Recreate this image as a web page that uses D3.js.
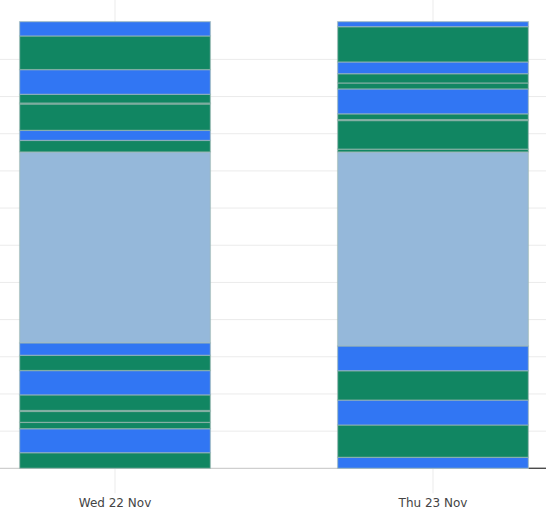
<!DOCTYPE html>
<html>
<head>
<meta charset="utf-8">
<script src="https://cdn.jsdelivr.net/npm/d3@7"></script>
<style>
  body { margin: 0; background: #fff; }
  svg { display: block; }
</style>
</head>
<body>
<svg id="chart" width="546" height="530"></svg>
<script>
// days on the x axis
const days = ["Wed 22 Nov", "Thu 23 Nov"];

// segment kinds stacked from the bottom up, per day
const wedKinds = ["g","b","g","g","g","g","b","g","b","l","g","b","g","g","g","b","g","b"];
const wedHours = [0.84,1.29,0.34,0.59,0.05,0.84,1.31,0.82,0.67,10.27,0.62,0.54,1.42,0.05,0.47,1.33,1.81,0.77];

const thuKinds = ["b","g","b","g","b","l","g","g","g","g","b","g","g","b","g","b"];
const thuHours = [0.59,1.74,1.34,1.58,1.33,10.44,0.15,1.54,0.05,0.31,1.34,0.32,0.50,0.63,1.90,0.27];

// y gridlines
const yTicks = [2,4,6,8,10,12,14,16,18,20,22];

const colors = { b: "#3176f3", g: "#118662", l: "#95b8da" };

const svg = d3.select("#chart");
const W = 546, H = 530;

let x = d3.scaleBand()
    .domain(days)
    .range([-44, 592])
    .paddingInner(0.4)
    .paddingOuter(0.2);

let y = d3.scaleLinear()
    .domain([0, 24])
    .range([468.3, 22.2]);

// build stacked segments
function stackDay(day, kinds, hours) {
    let ends = d3.cumsum(hours);
    return hours.map((h, i) => ({ day: day, kind: kinds[i], y0: ends[i] - h, y1: ends[i] }));
}
let segs = stackDay(days[0], wedKinds, wedHours).concat(stackDay(days[1], thuKinds, thuHours));

// horizontal grid
svg.append("g").selectAll("line").data(yTicks).enter().append("line")
    .attr("x1", 0).attr("x2", W)
    .attr("y1", d => y(d)).attr("y2", d => y(d))
    .attr("stroke", "#ebebeb").attr("stroke-width", 1);

// vertical grid + ticks at day centers
svg.append("g").selectAll("line").data(days).enter().append("line")
    .attr("x1", d => x(d) + x.bandwidth() / 2)
    .attr("x2", d => x(d) + x.bandwidth() / 2)
    .attr("y1", 0).attr("y2", y(0) + 25)
    .attr("stroke", "#ebebeb").attr("stroke-width", 1);

// baseline
svg.append("line")
    .attr("x1", 0).attr("x2", W)
    .attr("y1", y(0)).attr("y2", y(0))
    .attr("stroke", "#cfcfcf").attr("stroke-width", 1.2);
svg.append("line")
    .attr("x1", x(days[1]) + x.bandwidth()).attr("x2", W)
    .attr("y1", y(0)).attr("y2", y(0))
    .attr("stroke", "#444").attr("stroke-width", 1.3);

// bars
svg.append("g").selectAll("rect").data(segs).enter().append("rect")
    .attr("x", d => x(d.day))
    .attr("width", x.bandwidth())
    .attr("y", d => y(d.y1))
    .attr("height", d => y(d.y0) - y(d.y1))
    .attr("fill", d => colors[d.kind])
    .attr("stroke", "rgba(160,185,180,0.6)")
    .attr("stroke-width", 1.3);

// x labels
svg.append("g").selectAll("text").data(days).enter().append("text")
    .attr("x", d => x(d) + x.bandwidth() / 2)
    .attr("y", 507)
    .attr("text-anchor", "middle")
    .attr("font-family", "DejaVu Sans, sans-serif")
    .attr("font-size", 12)
    .attr("fill", "#444")
    .text(d => d);
</script>
</body>
</html>
